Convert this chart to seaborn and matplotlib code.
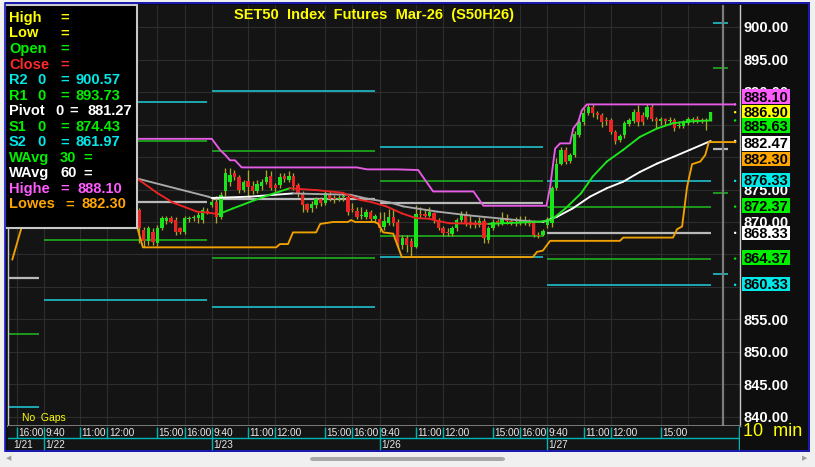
import numpy as np
import pandas as pd
import seaborn as sns
import matplotlib.pyplot as plt
from matplotlib.patches import Rectangle, FancyBboxPatch
from matplotlib.transforms import blended_transform_factory, offset_copy

# ---------------- data (10 min bars, index 0 = 9:40 on 1/22) ----------------
bars_per_day = 37
day_labels = ['1/21', '1/22', '1/23', '1/26', '1/27']
session_labels = ['9:40', '11:00', '12:00', '15:00', '16:00']
session_offsets = [0, 8, 14, 25, 31]

first_bar = 21  # earlier 1/22 candles sit under the legend box

opens = [871.8, 868.8, 867.0, 868.5, 866.7, 869.0, 870.1, 870.6, 870.3, 869.0, 868.5, 870.5, 870.6, 870.6, 870.3, 871.6,
         872.6, 873.1, 870.8, 874.7, 876.2, 877.5, 876.9, 874.9, 876.3, 875.6, 874.8, 875.5, 876.2, 877.1, 875.7, 875.7,
         877.1, 876.5, 877.1, 875.7, 874.4, 872.7, 872.1, 872.6, 873.5, 873.0, 874.3, 873.6, 873.6, 873.8, 873.8, 872.0,
         871.7, 870.9, 870.8, 871.6, 870.5,
         870.4, 869.3, 869.8, 870.8, 870.0, 866.5, 867.5, 867.0, 866.2, 871.2, 871.2, 871.0, 871.4, 870.3, 869.1, 868.5,
         868.2, 869.0, 870.3, 871.2, 870.0, 869.9, 869.6, 870.1, 867.3, 869.0, 870.1, 869.8, 870.6, 870.2, 869.8, 869.8,
         870.0, 870.1, 870.0, 868.0, 868.0,
         869.6, 869.8, 875.2, 879.0, 881.1, 879.4, 880.3, 883.4, 885.4, 886.7, 887.7, 886.7, 886.5, 885.7, 885.7, 883.9,
         882.6, 883.4, 885.1, 885.5, 887.0, 886.5, 886.2, 887.7, 885.8, 885.6, 885.8, 885.6, 885.7, 884.8, 884.7, 885.2,
         885.7, 885.8, 885.6, 885.7, 885.6]
highs = [872.2, 869.2, 869.4, 869.0, 869.6, 871.0, 870.9, 870.9, 870.7, 869.3, 871.0, 871.0, 871.1, 871.5, 872.3, 872.1,
         873.5, 874.0, 874.6, 878.3, 878.3, 878.0, 877.3, 876.5, 878.0, 876.3, 876.4, 876.6, 878.0, 877.8, 876.0, 877.5,
         877.6, 877.8, 877.5, 876.0, 874.8, 873.0, 873.2, 873.8, 873.9, 874.8, 874.7, 874.2, 874.1, 874.5, 874.3, 872.9,
         872.3, 872.3, 872.0, 871.9, 871.3,
         871.5, 871.5, 872.0, 872.0, 870.5, 868.0, 868.0, 867.5, 872.6, 872.3, 872.0, 872.3, 871.6, 870.6, 869.4, 869.0,
         869.4, 870.6, 871.7, 871.7, 871.0, 870.3, 870.8, 870.6, 869.4, 870.4, 870.4, 871.5, 871.2, 870.5, 870.8, 871.0,
         870.9, 870.5, 870.3, 868.5, 868.9,
         870.8, 875.6, 879.8, 881.6, 881.6, 880.6, 884.0, 885.8, 887.5, 888.1, 888.1, 887.1, 886.8, 886.2, 886.0, 884.2,
         883.5, 885.5, 886.0, 887.4, 888.0, 886.9, 888.1, 888.1, 886.2, 886.1, 886.0, 886.2, 886.0, 885.5, 885.7, 886.1,
         886.2, 886.3, 886.0, 886.0, 887.0]
lows = [866.8, 866.1, 866.5, 866.5, 866.3, 868.7, 869.7, 869.8, 868.0, 868.2, 868.2, 870.0, 870.1, 869.8, 869.9, 871.3,
        872.3, 869.9, 870.4, 874.0, 875.5, 876.5, 874.5, 874.6, 873.9, 874.3, 874.5, 875.0, 875.8, 874.9, 874.6, 875.3,
        876.2, 876.2, 875.0, 873.9, 871.6, 871.5, 871.6, 872.2, 872.5, 872.6, 873.2, 873.0, 873.2, 873.2, 871.1, 871.5,
        870.4, 870.5, 870.5, 870.0, 870.0,
        868.5, 868.8, 869.5, 869.4, 866.0, 865.8, 865.4, 864.6, 866.0, 870.6, 870.7, 870.8, 869.9, 868.7, 867.9, 867.8,
        867.9, 868.6, 870.0, 869.4, 869.0, 869.0, 869.2, 866.8, 866.7, 868.7, 869.4, 869.5, 869.7, 869.5, 869.4, 869.5,
        869.6, 869.4, 867.7, 867.6, 867.8,
        869.0, 869.3, 874.9, 878.8, 879.0, 879.1, 880.0, 883.1, 885.0, 886.4, 886.2, 885.8, 884.6, 885.0, 883.5, 882.0,
        882.3, 883.0, 884.8, 885.2, 884.7, 885.0, 885.9, 885.5, 884.4, 885.0, 885.0, 885.2, 884.0, 884.5, 884.4, 885.0,
        885.3, 885.2, 885.3, 884.1, 885.5]
closes = [869.1, 867.0, 869.1, 866.9, 869.0, 870.6, 870.6, 870.0, 868.5, 868.5, 870.6, 870.6, 870.7, 871.1, 871.8, 871.5,
          873.1, 870.8, 874.1, 877.5, 877.3, 876.9, 875.0, 876.2, 875.4, 874.8, 875.8, 876.2, 877.0, 875.3, 875.2, 877.0,
          876.6, 877.1, 875.5, 874.4, 872.6, 871.9, 872.7, 873.5, 872.9, 874.4, 873.6, 873.5, 873.7, 873.8, 871.6, 871.9,
          870.8, 871.0, 871.6, 870.4, 871.0,
          869.0, 870.1, 870.8, 869.8, 866.5, 867.5, 866.5, 866.2, 871.2, 871.1, 871.0, 871.5, 870.3, 869.0, 868.3, 868.3,
          869.1, 870.3, 871.2, 869.7, 869.5, 869.5, 870.1, 867.5, 869.0, 870.0, 869.7, 870.6, 870.2, 869.8, 870.0, 870.3,
          870.0, 869.7, 868.0, 867.9, 868.6,
          870.3, 875.2, 879.0, 881.1, 879.3, 880.3, 883.6, 885.4, 886.7, 887.7, 886.7, 886.5, 885.4, 885.6, 883.9, 882.4,
          883.2, 885.2, 885.7, 887.0, 885.4, 885.4, 887.7, 885.8, 885.6, 885.8, 885.5, 885.7, 884.5, 885.0, 885.4, 885.8,
          885.8, 885.6, 885.7, 885.6, 886.9]

# floor pivots per day: 1/21, 1/22, 1/23, 1/26, 1/27, next session ("0")
r2_levels = [881.2, 888.4, 890.15, 881.5, 876.33, 900.57]
r1_levels = [872.5, 882.4, 881.0, 876.3, 872.37, 893.73]
pivot_levels = [861.4, 873.1, 873.55, 873.0, 868.33, 881.27]
s1_levels = [852.7, 867.2, 864.4, 867.9, 864.37, 874.43]
s2_levels = [841.6, 858.0, 856.9, 864.6, 860.33, 861.97]

# weighted averages (bar, value)
wavg30_bars = [15, 20.5, 24.9, 28.4, 33.7, 36.6, 38.5, 41.7, 47, 49.8, 52, 54.2, 55.8, 60.2, 65.9, 69.7, 72, 75.5,
               79, 82, 85, 86.5, 89.5, 95, 98, 101, 104.5, 108, 110, 112, 115, 118.4, 121, 124.1, 127.7, 131.4,
               135.2, 138.7, 142.5, 147]
wavg30_vals = [877.6, 876.7, 874.5, 873.0, 871.6, 871.4, 871.2, 872.1, 873.5, 874.2, 874.7, 875.2, 875.1, 874.9,
               874.5, 873.4, 873.1, 872.4, 871.3, 870.6, 870.5, 870.2, 869.8, 869.75, 869.7, 869.8, 869.9, 870.0,
               870.1, 870.4, 872.1, 874.4, 877.0, 879.3, 881.1, 883.1, 884.4, 885.2, 885.5, 885.63]
wavg60_bars = [15, 20.5, 36.2, 37, 45.4, 54.9, 60.2, 67.5, 71.2, 76.3, 79.2, 86.7, 93.9, 101.2, 107.2, 110, 113.1,
               116.6, 120.4, 124.1, 127.7, 131.4, 135.2, 138.7, 142.4, 147]
wavg60_vals = [877.4, 876.7, 873.9, 873.7, 873.9, 874.4, 874.3, 874.2, 873.6, 873.0, 872.4, 871.6, 871.0, 870.5,
               870.1, 870.0, 870.8, 872.1, 873.9, 875.2, 876.2, 877.7, 879.0, 880.0, 881.1, 882.47]

highe_bars = [15, 37, 38.8, 40, 41, 42.1, 43.6, 69, 71.2, 77.8, 82.5, 85.8, 94.7, 96.9, 110.8, 111.6, 112.7, 113.8,
              116, 116.7, 117.8, 118.6, 119.7, 152.4]
highe_vals = [882.8, 882.8, 881.1, 880.3, 879.5, 879.5, 878.4, 878.4, 878.1, 878.1, 878.0, 874.7, 874.7, 872.5,
              872.5, 875.4, 881.3, 882.1, 882.1, 884.4, 885.4, 887.2, 888.1, 888.1]
lowes_bars = [-7, -5.1, -4, 20.2, 20.7, 21.8, 51.2, 52, 53.8, 54.9, 60, 60.9, 63.7, 67, 67.7, 68.6, 72.8, 73.6,
              74.8, 77, 78.9, 107.8, 108.7, 110, 111.6, 127, 127.7, 138.7, 139.6, 140.7, 141.8, 142.9, 144.7,
              145.8, 146.6, 152.4]
lowes_vals = [864.2, 868.8, 871.0, 871.0, 868.8, 866.1, 866.1, 866.6, 866.6, 868.4, 868.4, 869.7, 870.0, 870.0,
              870.3, 870.0, 870.0, 869.8, 868.4, 868.2, 864.6, 864.6, 865.4, 865.6, 867.1, 867.1, 867.6, 867.6,
              868.9, 869.3, 875.4, 878.9, 879.3, 880.3, 882.3, 882.3]

# ---------------- style ----------------
sns.set_style('dark', rc={'axes.facecolor': '#141414', 'figure.facecolor': '#0e0e0e'})
plt.rcParams['font.family'] = ['Liberation Sans', 'DejaVu Sans']

YELLOW, GREEN, RED, CYAN = '#ffff00', '#00f000', '#ff2a2a', '#00e8e8'
MAGENTA, ORANGE, WHITE = '#ff5cff', '#ffa500', '#ffffff'

W, H = 815, 467
fig = plt.figure(figsize=(W / 100, H / 100), dpi=100)
fig.patch.set_facecolor('#0e0e0e')


def fx(px):
    return px / W


def fy(py):
    return 1 - py / H


# window chrome around the chart panel
for x0, y0, w, h in [(0, 452, W, 15), (0, 0, 5, 452), (810, 0, 5, 452), (0, 0, W, 2)]:
    fig.add_artist(Rectangle((fx(x0), fy(y0 + h)), w / W, h / H, fc='#f0f0f0', ec='none', zorder=-5))
fig.add_artist(FancyBboxPatch((fx(310), fy(461)), 195 / W, 4 / H, boxstyle='round,pad=0,rounding_size=0.004',
                              fc='#a8a8a8', ec='none', zorder=-4))
fig.text(fx(9), fy(459), '◀', fontsize=5, color='#a0a0a0', va='center', ha='center')
fig.text(fx(805), fy(459), '▶', fontsize=5, color='#a0a0a0', va='center', ha='center')

# ---------------- main price panel ----------------
XLIM = (-7.94, 153.47)
ax = fig.add_axes([fx(8), fy(426), 732 / W, 421 / H])
ax.set_facecolor('#141414')

grid_bars = [bars_per_day * d + o for d in range(-1, 4) for o in session_offsets]
ax.set_xticks(grid_bars)
ax.set_yticks(np.arange(840, 901, 5))
ax.grid(True, color='#2d2d2d', lw=0.8)
ax.set_axisbelow(True)
ax.tick_params(length=0, labelleft=False, labelbottom=False)
for side in ['left', 'right']:
    ax.spines[side].set_linestyle((0, (1, 1)))
    ax.spines[side].set_color('#c8c8c8')
    ax.spines[side].set_linewidth(1.0)
ax.spines['top'].set_visible(False)
ax.spines['bottom'].set_color('#8c8c8c')
ax.spines['bottom'].set_linewidth(1.2)

# pivot segments, one per session
starts = [bars_per_day * d for d in range(-1, 4)] + [147.5]
ends = [bars_per_day * d + 36 for d in range(-1, 4)] + [150.8]
for levels, col, lw in [(r2_levels, '#1fb3bd', 1.3), (r1_levels, '#1fa31f', 1.3), (pivot_levels, '#b9b9b9', 1.6),
                        (s1_levels, '#1fa31f', 1.3), (s2_levels, '#1fb3bd', 1.3)]:
    ax.hlines(levels, starts, ends, colors=col, lw=lw, zorder=2)

# current-bar marker line
ax.axvline(149.65, color='#7c7c7c', lw=1.6, zorder=2)

# candles
candles = pd.DataFrame({'bar': np.arange(first_bar, first_bar + len(closes)),
                        'open': opens, 'high': highs, 'low': lows, 'close': closes})
rising = candles['close'] >= candles['open']
ax.vlines(candles['bar'], candles['low'], candles['high'], color='#aaa72c', lw=0.95, zorder=3)
body_low = candles[['open', 'close']].min(axis=1)
body_h = (candles['close'] - candles['open']).abs().clip(lower=0.15)
ax.bar(candles['bar'], body_h, bottom=body_low, width=0.74,
       color=np.where(rising, '#19e619', '#ee2424'), linewidth=0, zorder=4)


def slope_line(bx, vals, up_col, down_col):
    for i in range(len(bx) - 1):
        col = up_col if vals[i + 1] >= vals[i] else down_col
        ax.plot(bx[i:i + 2], vals[i:i + 2], color=col, lw=1.35, zorder=5, solid_capstyle='round')


slope_line(wavg60_bars, wavg60_vals, '#ffffff', '#a9a9a9')
slope_line(wavg30_bars, wavg30_vals, '#1ee61e', '#ee2424')
sns.lineplot(x=highe_bars, y=highe_vals, ax=ax, color='#e65ce6', lw=1.35, zorder=6)
sns.lineplot(x=lowes_bars, y=lowes_vals, ax=ax, color='#f0a000', lw=1.35, zorder=6)

# limits last: set_xticks and the plotting calls would widen them
ax.set_xlim(*XLIM)
ax.set_ylim(838.6, 903.4)

# ---------------- right price scale ----------------
trans = offset_copy(blended_transform_factory(fig.transFigure, ax.transData), fig=fig, y=-5.2, units='dots')
for p in [900, 895, 890, 875, 870, 855, 850, 845, 840]:  # the rest sit fully under the value tags
    fig.text(fx(743), p, f'{p:.2f}', transform=trans, color='white', fontweight='bold',
             fontsize=10.5, va='baseline', ha='left', zorder=10)

tag_values = [highe_vals[-1], closes[-1], wavg30_vals[-1], wavg60_vals[-1], lowes_vals[-1],
              r2_levels[4], r1_levels[4], pivot_levels[4], s1_levels[4], s2_levels[4]]
tag_colors = [MAGENTA, YELLOW, GREEN, WHITE, ORANGE, CYAN, GREEN, WHITE, GREEN, CYAN]
tag_rows_px = [96.3, 111.8, 125.5, 143.3, 158.8, 180.2, 205.5, 233.0, 257.5, 284.2]
for v, c, yc in zip(tag_values, tag_colors, tag_rows_px):
    fig.add_artist(Rectangle((fx(742), fy(yc + 7.2)), 48 / W, 14.4 / H, fc=c, ec='none', zorder=11))
    fig.text(fx(743), fy(yc + 5.2), f'{v:.2f}', color='black', fontweight='bold', fontsize=10.5,
             va='baseline', ha='left', zorder=12)
ax.scatter([152.4] * len(tag_values), tag_values, s=3, c=tag_colors, zorder=7, clip_on=False, linewidths=0)
ax.set_xlim(*XLIM)

fig.text(fx(743), fy(432), '10  min', color=YELLOW, fontsize=13, va='center', ha='left')

# ---------------- time / date strip ----------------
axt = fig.add_axes([fx(8), fy(451), 732 / W, 25 / H])
axt.set_facecolor('#141414')
axt.set_xticks([])
axt.set_yticks([])
for s in axt.spines.values():
    s.set_visible(False)
STRIP = '#00b4b4'
axt.axhline(12, color=STRIP, lw=1.0)
axt.vlines([153.3], 0, 25, colors=STRIP, lw=1.0)
for d in range(-1, 4):
    for off, lab in zip(session_offsets, session_labels):
        b = bars_per_day * d + off
        if b < -7 or b > 136:
            continue
        axt.vlines(b, 1, 12, colors=STRIP, lw=1.0)
        axt.text(b + 0.3, 6.8, lab, color='#e8e8e8', fontsize=7.3, va='center', ha='left')
    day_start = bars_per_day * d
    if d >= 0:
        axt.vlines(day_start, 12, 25, colors=STRIP, lw=1.0)
        axt.text(day_start + 0.3, 18.8, day_labels[d + 1], color='#e8e8e8', fontsize=7.3, va='center')
    else:
        axt.text(-6.7, 18.8, day_labels[0], color='#e8e8e8', fontsize=7.3, va='center')
axt.set_xlim(*XLIM)
axt.set_ylim(25, 0)

# ---------------- title, notes, legend box ----------------
fig.text(fx(374.5), fy(19.5), 'SET50  Index  Futures  Mar-26  (S50H26)', color=YELLOW, fontweight='bold',
         fontsize=10.5, ha='center', va='baseline', zorder=25)
fig.text(fx(22), fy(418), 'No  Gaps', color=YELLOW, fontsize=7.5, va='center', zorder=25)

fig.add_artist(Rectangle((fx(5), fy(228)), 132 / W, 223 / H, fc='black', ec='#c8c8c8', lw=1.5, zorder=30))
legend_rows = [
    ([('High', 9), ('=', 60)], YELLOW),
    ([('Low', 9), ('=', 60)], YELLOW),
    ([('Open', 9), ('=', 60)], GREEN),
    ([('Close', 9), ('=', 60)], RED),
    ([('R2', 9), ('0', 37), ('=', 60), (f'{r2_levels[-1]:.2f}', 76)], CYAN),
    ([('R1', 9), ('0', 37), ('=', 60), (f'{r1_levels[-1]:.2f}', 76)], GREEN),
    ([('Pivot', 9), ('0', 55), ('=', 69), (f'{pivot_levels[-1]:.2f}', 88)], WHITE),
    ([('S1', 9), ('0', 37), ('=', 60), (f'{s1_levels[-1]:.2f}', 76)], GREEN),
    ([('S2', 9), ('0', 37), ('=', 60), (f'{s2_levels[-1]:.2f}', 76)], CYAN),
    ([('WAvg', 9), ('30', 60), ('=', 83)], GREEN),
    ([('WAvg', 9), ('60', 60), ('=', 83)], WHITE),
    ([('Highe', 9), ('=', 60), (f'{highe_vals[-1]:.2f}', 77)], MAGENTA),
    ([('Lowes', 9), ('=', 65), (f'{lowes_vals[-1]:.2f}', 82)], ORANGE),
]
for i, (parts, col) in enumerate(legend_rows):
    yc = 16.7 + 15.55 * i
    for txt, xpx in parts:
        fig.text(fx(xpx), fy(yc + 5.2), txt, color=col, fontweight='bold', fontsize=10.5,
                 va='baseline', ha='left', zorder=31)

# blue frame of the chart window
fig.add_artist(Rectangle((fx(5), fy(451)), 804 / W, 448 / H, fill=False, ec='#1c1cd0', lw=1.2, zorder=40))

fig.savefig('out.png', dpi=100, facecolor=fig.get_facecolor())
